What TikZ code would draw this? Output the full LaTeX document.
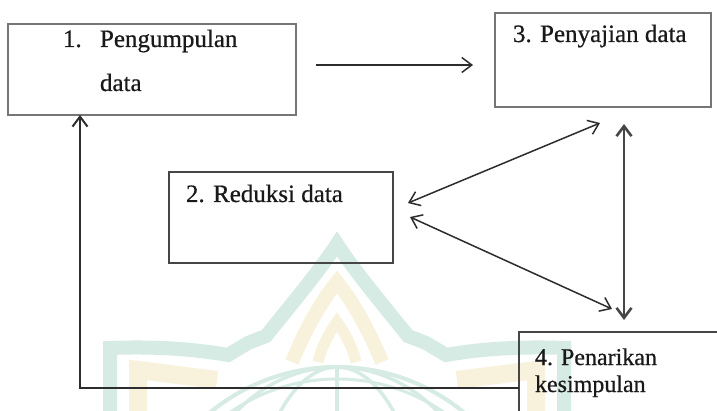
\documentclass[tikz,border=0pt]{standalone}
\usepackage{fontspec}
\setmainfont{Liberation Serif}[FakeBold=0.6]
\usetikzlibrary{arrows.meta,calc}
\definecolor{wmgreen}{RGB}{214,235,227}
\definecolor{wmyellow}{RGB}{248,241,220}
\definecolor{boxgray}{RGB}{118,118,118}
\definecolor{boxdark}{RGB}{70,70,70}
\definecolor{arrgray}{RGB}{45,45,45}
\definecolor{txt}{RGB}{25,25,25}
\begin{document}
\begin{tikzpicture}[x=1pt,y=-1pt,
  box/.style={draw=boxgray,line width=1.8pt,inner sep=0pt,outer sep=0pt},
  lbl/.style={anchor=base west,inner sep=0pt,outer sep=0pt,text=txt,font=\fontsize{25}{30}\selectfont},
  tip/.tip={Straight Barb[length=10pt,width=15pt]},
  arr/.style={draw=arrgray,line width=1.5pt,-tip},
  dbl/.style={draw=arrgray,line width=1.5pt,tip-tip},
  wm/.style={line cap=butt,line join=miter}]
\useasboundingbox (0,0) rectangle (717,411);
\clip (0,0) rectangle (717,411);
\fill[white] (0,0) rectangle (717,411);

% watermark
\begin{scope}[wm]
  % teal dome and wings
  \draw[wmgreen,line width=14pt] (110,420) -- (110,348) .. controls (160,346) and (200,350) .. (228,355)
     -- (248,343) -- (266,336) .. controls (295,300) and (320,270) .. (337,244)
     .. controls (354,270) and (379,300) .. (408,336) -- (426,343) -- (446,355)
     .. controls (474,350) and (514,346) .. (564,348) -- (564,420);
  % yellow arches
  \draw[wmyellow,line width=14pt] (292,362) .. controls (305,330) and (322,300) .. (337,282)
     .. controls (352,300) and (369,330) .. (382,362);
  \draw[wmyellow,line width=11pt] (318,362) .. controls (322,345) and (330,332) .. (337,322)
     .. controls (344,332) and (352,345) .. (356,362);
  % yellow wings
  \draw[wmyellow,line width=18pt] (138,420) -- (138,370) -- (217,380);
  \draw[wmyellow,line width=18pt] (536,420) -- (536,370) -- (457,380);
  % globe
  \draw[wmgreen,line width=4pt] (337,567) circle (200);
  \draw[wmgreen,line width=3pt] (337,567) circle (188);
  \draw[wmgreen,line width=3.5pt] (337,567) ellipse (90 and 200);
  \draw[wmgreen,line width=3.5pt] (337,567) ellipse (160 and 200);
  \draw[wmgreen,line width=4pt] (337,367) -- (337,420);
\end{scope}

% boxes
\node[box,minimum width=288pt,minimum height=91pt] (b1) at (152,69.5) {};
\node[box,minimum width=216pt,minimum height=94pt] (b3) at (603,60) {};
\node[box,draw=boxdark,line width=1.5pt,minimum width=224pt,minimum height=91pt] (b2) at (281,217.5) {};
\node[box,draw=boxdark,line width=1.5pt,minimum width=220pt,minimum height=110pt] (b4) at (629,387) {};

% texts
\node[lbl] (t1n) at (63,47) {1.};
\node[lbl] (t1a) at (100,47) {Pengumpulan};
\node[lbl] (t1b) at (100,91) {data};
\node[lbl] (t3) at (513,42) {3. Penyajian data};
\node[lbl] (t2) at (186,202) {2. Reduksi data};
\node[lbl,font=\fontsize{24}{28}\selectfont] (t4a) at (535,365) {4. Penarikan};
\node[lbl,font=\fontsize{24}{28}\selectfont] (t4b) at (535,392) {kesimpulan};

% connector ends
\coordinate (a1s) at ($(b1.east)+(20,-4.5)$);
\coordinate (a1e) at ($(b3.west)+(-22,5)$);
\coordinate (u2) at ($(b2.east)+(15,-14.5)$);
\coordinate (u3) at ($(b3.south)+(-3,16)$);
\coordinate (l2) at ($(b2.east)+(17,-0.5)$);
\coordinate (l4) at ($(b4.north west)+(93,-23)$);
\coordinate (v3) at ($(b3.south)+(21,17)$);
\coordinate (v4) at ($(b4.north west)+(105,-12)$);
\coordinate (fbs) at ($(b4.north west)+(0,56)$);
\coordinate (fbe) at ($(b1.south west)+(72,0)$);

% connectors
\draw[arr] (a1s) -- (a1e);
\draw[dbl] (u2) -- (u3);
\draw[dbl] (l2) -- (l4);
\draw[draw=boxdark,line width=2.6pt,tip-tip] (v3) -- (v4);
\draw[draw=arrgray,line width=2pt,-tip] (fbs) -| (fbe);
\end{tikzpicture}
\end{document}
